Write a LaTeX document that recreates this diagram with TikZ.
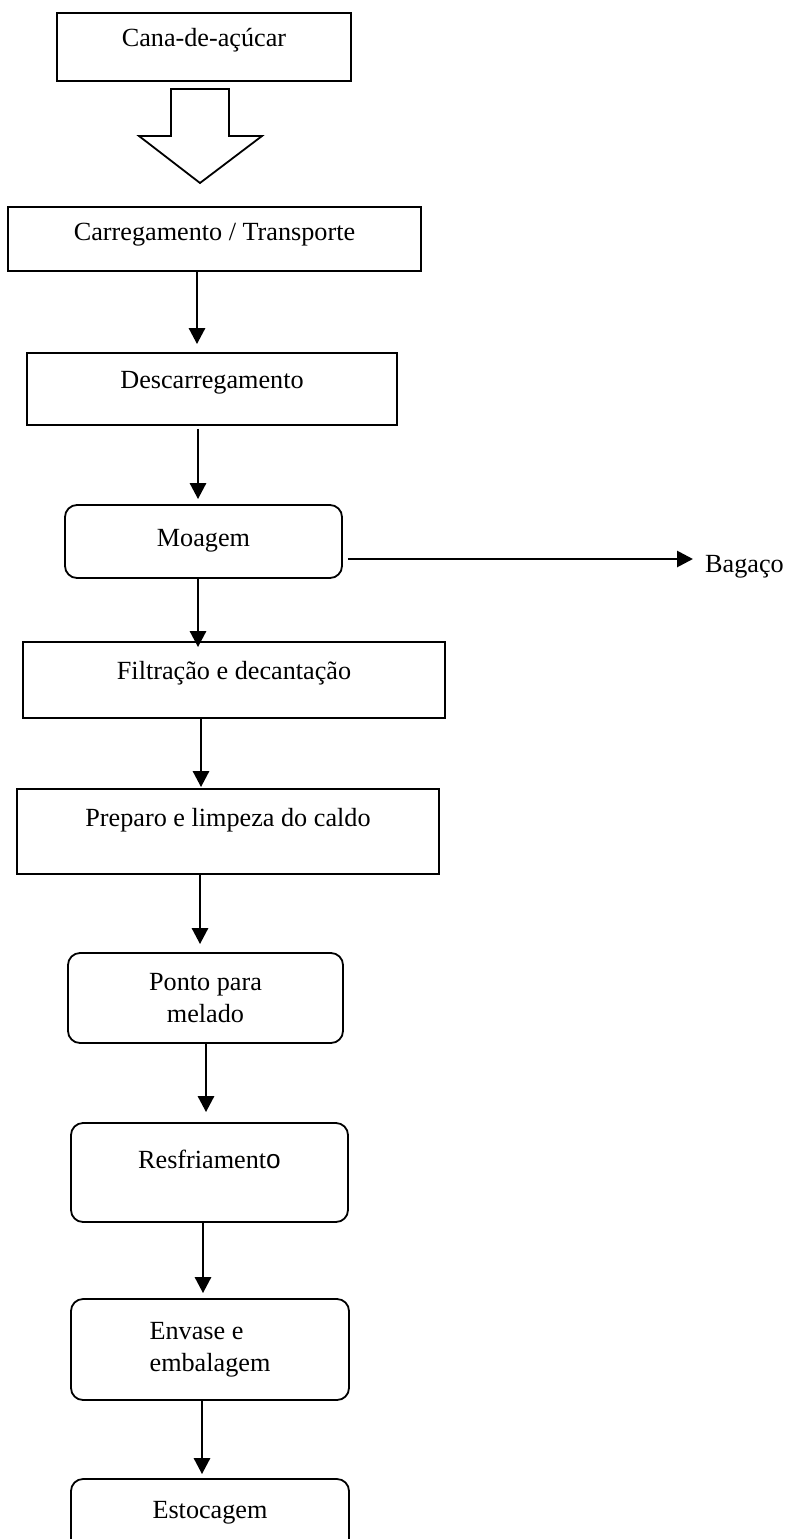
\documentclass[tikz,border=0pt]{standalone}
\usepackage{fontspec}
\setmainfont{Liberation Serif}
\newfontfamily\arialfont{Liberation Sans}
\usetikzlibrary{arrows.meta}
\begin{document}
\begin{tikzpicture}[x=1pt, y=-1pt,
        font=\fontsize{26.2}{32}\selectfont,
        box/.style={draw, rectangle, line width=1.8pt, inner xsep=0pt, inner ysep=0pt},
        rbox/.style={box, rounded corners=12pt},
        arr/.style={-{Triangle[length=16pt, width=16pt]}, line width=2.8pt}]
        \useasboundingbox (0,0) rectangle (788,1539);

        % Nodes
        \node (cana) [box, minimum width=294pt, text height=33pt, text depth=35pt] at (204,47) {Cana-de-açúcar};
        \node (carga) [box, minimum width=413pt, text height=33pt, text depth=31pt] at (214.5,239) {Carregamento / Transporte};
        \node (descarga) [box, minimum width=370pt, text height=35pt, text depth=37pt] at (212,389) {Descarregamento};
        \node (moagem) [rbox, minimum width=277pt, text height=41pt, text depth=32pt] at (203.5,541.5) {Moagem};
        \node (bagaco) [anchor=base west, inner sep=0pt] at (705,572) {Bagaço};
        \node (filtro) [box, minimum width=422pt, text height=37pt, text depth=39pt] at (234,680) {Filtração e decantação};
        \node (preparo) [box, minimum width=422pt, text height=37pt, text depth=48pt] at (228,831.5) {Preparo e limpeza do caldo};
        \node (ponto) [rbox, minimum width=275pt, minimum height=90pt, align=center] at (205.5,998) {Ponto para\\melado};
        \node (resfria) [rbox, minimum width=277pt, text height=45pt, text depth=54pt] at (209.5,1172.5) {Resfriament{\arialfont o}};
        \node (envase) [rbox, minimum width=278pt, minimum height=101pt, align=left] at (210,1349.5) {Envase e\\embalagem};
        \node (estoque) [rbox, minimum width=278pt, text height=39pt, text depth=34pt] at (210,1515.5) {Estocagem};

        % Edges
        \draw[line width=1.8pt] (171,89) -- (229,89) -- (229,136) -- (262,136) -- (200,183) -- (139,136) -- (171,136) -- cycle;
        \draw[arr, shorten >=8pt] (carga.south -| 197,0) -- (descarga.north -| 197,0);
        \draw[arr, shorten <=3pt, shorten >=5pt] (descarga.south -| 198,0) -- (moagem.north -| 198,0);
        \draw[arr, shorten <=5pt, shorten >=12pt] (moagem.east |- 0,559) -- (bagaco.west |- 0,559);
        \draw[arr, shorten >=-6pt] (moagem.south -| 198,0) -- (filtro.north -| 198,0);
        \draw[arr, shorten >=1pt] (filtro.south -| 201,0) -- (preparo.north -| 201,0);
        \draw[arr, shorten >=8pt] (preparo.south -| 200,0) -- (ponto.north -| 200,0);
        \draw[arr, shorten >=10pt] (ponto.south -| 206,0) -- (resfria.north -| 206,0);
        \draw[arr, shorten >=5pt] (resfria.south -| 203,0) -- (envase.north -| 203,0);
        \draw[arr, shorten >=4pt] (envase.south -| 202,0) -- (estoque.north -| 202,0);
    \end{tikzpicture}
\end{document}
